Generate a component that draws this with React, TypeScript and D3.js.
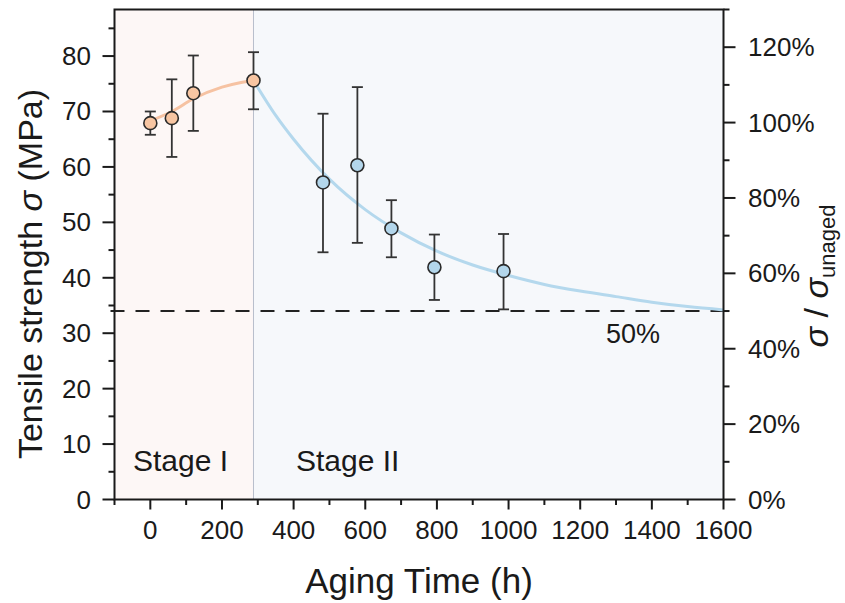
import React from "react";
import * as d3 from "d3";

// ---- data ----
const timeH = [0, 60, 120, 288, 482, 578, 673, 793, 986];
const strength = [67.9, 68.8, 73.3, 75.6, 57.2, 60.3, 48.9, 41.9, 41.2];
const errHigh = [70.0, 75.8, 80.1, 80.7, 69.6, 74.4, 54.0, 47.8, 47.9];
const errLow = [65.8, 61.8, 66.5, 70.4, 44.6, 46.3, 43.7, 36.0, 34.3];
const stageOf = [1, 1, 1, 1, 2, 2, 2, 2, 2];

const fit1T = [0, 60, 120, 200, 250, 288];
const fit1V = [68.3, 70.0, 72.3, 74.4, 75.2, 75.6];
const fit2T = [288, 350, 400, 500, 600, 700, 800, 900, 1000, 1100, 1200, 1300, 1400, 1500, 1600];
const fit2V = [75.6, 69.3, 65.0, 57.8, 52.3, 48.1, 44.8, 42.3, 40.4, 38.8, 37.6, 36.6, 35.6, 34.8, 34.2];

const stageBoundary = 288;
const referenceLevel = 34; // 50% of unaged
const xTicks = [0, 200, 400, 600, 800, 1000, 1200, 1400, 1600];
const xMinor = [-100, 100, 300, 500, 700, 900, 1100, 1300, 1500];
const yTicks = [0, 10, 20, 30, 40, 50, 60, 70, 80];
const yMinor = [5, 15, 25, 35, 45, 55, 65, 75, 85];
const rTicks = [0, 0.2, 0.4, 0.6, 0.8, 1.0, 1.2];
const rTickLabels = ["0%", "20%", "40%", "60%", "80%", "100%", "120%"];
const rMinor = [0.1, 0.3, 0.5, 0.7, 0.9, 1.1, 1.3];

const FONT = "'Liberation Sans', Arial, Helvetica, sans-serif";

export default function App() {
  const W = 845, H = 603;
  const L = 114.5, R = 723.5, T = 9.5, B = 499.5;
  const x = d3.scaleLinear().domain([-100, 1600]).range([L, R]);
  const y = d3.scaleLinear().domain([0, 88.4]).range([B, T]);
  const yr = d3.scaleLinear().domain([0, 1.3]).range([B, T]);

  const line = d3
    .line<[number, number]>()
    .x((d) => x(d[0]))
    .y((d) => y(d[1]))
    .curve(d3.curveMonotoneX);
  const path1 = line(fit1T.map((t, i) => [t, fit1V[i]]) as [number, number][]) || "";
  const path2 = line(fit2T.map((t, i) => [t, fit2V[i]]) as [number, number][]) || "";

  const axisColor = "#1a1a1a";
  const textColor = "#1a1a1a";

  return (
    <svg
      width={W}
      height={H}
      style={{ position: "absolute", left: 0, top: 0, background: "#fff" }}
      fontFamily={FONT}
    >
      {/* stage backgrounds */}
      <rect x={L} y={T} width={x(stageBoundary) - L} height={B - T} fill="#fdf7f6" />
      <rect x={x(stageBoundary)} y={T} width={R - x(stageBoundary)} height={B - T} fill="#f6f8fb" />
      <line x1={x(stageBoundary)} x2={x(stageBoundary)} y1={T} y2={B} stroke="#b9bfcc" strokeWidth={1} />

      {/* reference dashed line */}
      <line
        x1={L - 4}
        x2={R}
        y1={y(referenceLevel)}
        y2={y(referenceLevel)}
        stroke="#222"
        strokeWidth={2}
        strokeDasharray="14 11"
      />

      {/* fit curves */}
      <path d={path1} fill="none" stroke="#f6c2a2" strokeWidth={3} />
      <path d={path2} fill="none" stroke="#b4d8ed" strokeWidth={3} />

      {/* error bars */}
      {timeH.map((t, i) => (
        <g key={"e" + i} stroke="#333" strokeWidth={1.8}>
          <line x1={x(t)} x2={x(t)} y1={y(errLow[i])} y2={y(errHigh[i])} />
          <line x1={x(t) - 5.5} x2={x(t) + 5.5} y1={y(errLow[i])} y2={y(errLow[i])} />
          <line x1={x(t) - 5.5} x2={x(t) + 5.5} y1={y(errHigh[i])} y2={y(errHigh[i])} />
        </g>
      ))}

      {/* markers */}
      {timeH.map((t, i) => (
        <circle
          key={"m" + i}
          cx={x(t)}
          cy={y(strength[i])}
          r={6.5}
          fill={stageOf[i] === 1 ? "#f7c5a2" : "#b3d6eb"}
          stroke="#2a2a2a"
          strokeWidth={1.6}
        />
      ))}

      {/* frame */}
      <rect x={L} y={T} width={R - L} height={B - T} fill="none" stroke={axisColor} strokeWidth={2} />

      {/* x axis ticks */}
      {xTicks.map((v) => (
        <g key={"xt" + v}>
          <line x1={x(v)} x2={x(v)} y1={B} y2={B + 10} stroke={axisColor} strokeWidth={2} />
          <text x={x(v)} y={539} fontSize={26} textAnchor="middle" fill={textColor}>
            {v}
          </text>
        </g>
      ))}
      {xMinor.map((v) => (
        <line key={"xm" + v} x1={x(v)} x2={x(v)} y1={B} y2={B + 5.5} stroke={axisColor} strokeWidth={2} />
      ))}

      {/* left y axis */}
      {yTicks.map((v) => (
        <g key={"yt" + v}>
          <line x1={L - 12} x2={L} y1={y(v)} y2={y(v)} stroke={axisColor} strokeWidth={2} />
          <text x={91} y={y(v) + 9} fontSize={26} textAnchor="end" fill={textColor}>
            {v}
          </text>
        </g>
      ))}
      {yMinor.map((v) => (
        <line key={"ym" + v} x1={L - 6} x2={L} y1={y(v)} y2={y(v)} stroke={axisColor} strokeWidth={2} />
      ))}

      {/* right y axis */}
      {rTicks.map((v, i) => (
        <g key={"rt" + i}>
          <line x1={R} x2={R + 12} y1={yr(v)} y2={yr(v)} stroke={axisColor} strokeWidth={2} />
          <text x={748} y={yr(v) + 9} fontSize={26} textAnchor="start" fill={textColor}>
            {rTickLabels[i]}
          </text>
        </g>
      ))}
      {rMinor.map((v, i) => (
        <line key={"rm" + i} x1={R} x2={R + 6} y1={yr(v)} y2={yr(v)} stroke={axisColor} strokeWidth={2} />
      ))}

      {/* stage labels */}
      <text x={133} y={471} fontSize={30} fill={textColor}>Stage I</text>
      <text x={296} y={471} fontSize={30} fill={textColor}>Stage II</text>

      {/* 50% label */}
      <text x={606} y={343} fontSize={27} fill={textColor}>50%</text>

      {/* axis titles */}
      <text x={419} y={593} fontSize={35} textAnchor="middle" fill={textColor}>
        Aging Time (h)
      </text>
      <text
        transform={`translate(42, 274) rotate(-90)`}
        fontSize={34}
        textAnchor="middle"
        fill={textColor}
      >
        Tensile strength <tspan fontStyle="italic">σ</tspan> (MPa)
      </text>
      <text
        transform={`translate(828, 276) rotate(-90)`}
        fontSize={34}
        textAnchor="middle"
        fill={textColor}
      >
        <tspan fontStyle="italic">σ</tspan>
        <tspan> / </tspan>
        <tspan fontStyle="italic">σ</tspan>
        <tspan fontSize={22} dy={7}>unaged</tspan>
      </text>
    </svg>
  );
}
